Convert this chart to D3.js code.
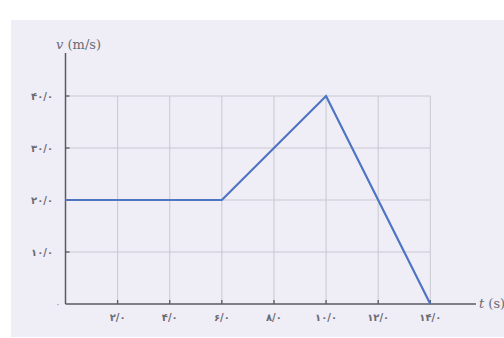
<!DOCTYPE html>
<html>
<head>
<meta charset="utf-8">
<script src="https://cdn.jsdelivr.net/npm/d3@7"></script>
<style>
  html, body { margin: 0; padding: 0; background: #ffffff; }
  svg { display: block; }
</style>
</head>
<body>
<svg id="chart" width="504" height="338"></svg>
<script>
// Velocity–time profile: v (m/s) against t (s)
const times = [0, 6, 10, 14];
const speeds = [20, 20, 40, 0];
const xTicks = [2, 4, 6, 8, 10, 12, 14];
const yTicks = [10, 20, 30, 40];
const xTickLabels = ["۲/۰", "۴/۰", "۶/۰", "۸/۰", "۱۰/۰", "۱۲/۰", "۱۴/۰"];
const yTickLabels = ["۱۰/۰", "۲۰/۰", "۳۰/۰", "۴۰/۰"];
const zeroLabel = "۰";

const svg = d3.select("#chart");

// panel background
svg.append("rect")
  .attr("x", 11).attr("y", 20)
  .attr("width", 493).attr("height", 317)
  .attr("fill", "#efedf6");

const x = d3.scaleLinear().domain([0, 14]).range([65.5, 430.3]);
const y = d3.scaleLinear().domain([0, 40]).range([304, 96]);

// grid
const grid = svg.append("g").attr("stroke", "#c9c8d2").attr("stroke-width", 1);
grid.selectAll("line.vx").data(xTicks).join("line")
  .attr("x1", d => x(d)).attr("x2", d => x(d))
  .attr("y1", y(0)).attr("y2", y(40));
grid.selectAll("line.hy").data(yTicks).join("line")
  .attr("x1", x(0)).attr("x2", x(14))
  .attr("y1", d => y(d)).attr("y2", d => y(d));

// axes lines
const axisColor = "#5a5a62";
svg.append("line")
  .attr("x1", x(0)).attr("x2", 476)
  .attr("y1", y(0)).attr("y2", y(0))
  .attr("stroke", axisColor).attr("stroke-width", 1.5);
svg.append("line")
  .attr("x1", x(0)).attr("x2", x(0))
  .attr("y1", y(0)).attr("y2", 53)
  .attr("stroke", axisColor).attr("stroke-width", 1.5);

// tick marks
svg.selectAll("line.xt").data(xTicks).join("line")
  .attr("x1", d => x(d)).attr("x2", d => x(d))
  .attr("y1", y(0)).attr("y2", y(0) - 4)
  .attr("stroke", axisColor).attr("stroke-width", 1.3);
svg.selectAll("line.yt").data(yTicks).join("line")
  .attr("x1", x(0)).attr("x2", x(0) + 4)
  .attr("y1", d => y(d)).attr("y2", d => y(d))
  .attr("stroke", axisColor).attr("stroke-width", 1.3);

// tick labels
const labelFont = "'DejaVu Sans', 'Noto Sans', sans-serif";
svg.selectAll("text.xl").data(xTicks).join("text")
  .attr("x", d => x(d)).attr("y", y(0) + 17)
  .attr("text-anchor", "middle")
  .attr("direction", "ltr")
  .attr("font-family", labelFont).attr("font-size", 10)
  .attr("font-weight", "bold")
  .attr("fill", "#6a6a72")
  .text((d, i) => xTickLabels[i]);
svg.selectAll("text.yl").data(yTicks).join("text")
  .attr("x", 53).attr("y", d => y(d) + 3.5)
  .attr("text-anchor", "end")
  .attr("direction", "ltr")
  .attr("font-family", labelFont).attr("font-size", 10)
  .attr("font-weight", "bold")
  .attr("fill", "#6a6a72")
  .text((d, i) => yTickLabels[i]);
svg.append("text")
  .attr("x", 58).attr("y", y(0) + 3)
  .attr("text-anchor", "middle")
  .attr("font-family", labelFont).attr("font-size", 9)
  .attr("fill", "#8a8a92")
  .text(zeroLabel);

// axis titles
const titleFont = "'DejaVu Serif', 'Liberation Serif', serif";
const yTitle = svg.append("text")
  .attr("x", 56).attr("y", 49)
  .attr("font-family", titleFont).attr("font-size", 13)
  .attr("fill", "#6a6a72");
yTitle.append("tspan").attr("font-style", "italic").text("v");
yTitle.append("tspan").text(" (m/s)");
const xTitle = svg.append("text")
  .attr("x", 479).attr("y", y(0) + 4)
  .attr("font-family", titleFont).attr("font-size", 13)
  .attr("fill", "#6a6a72");
xTitle.append("tspan").attr("font-style", "italic").text("t");
xTitle.append("tspan").text(" (s)");

// data line
const line = d3.line().x((d, i) => x(times[i])).y(d => y(d));
svg.append("path")
  .attr("d", line(speeds))
  .attr("fill", "none")
  .attr("stroke", "#4f74c4")
  .attr("stroke-width", 2.2)
  .attr("stroke-linejoin", "miter");
</script>
</body>
</html>
